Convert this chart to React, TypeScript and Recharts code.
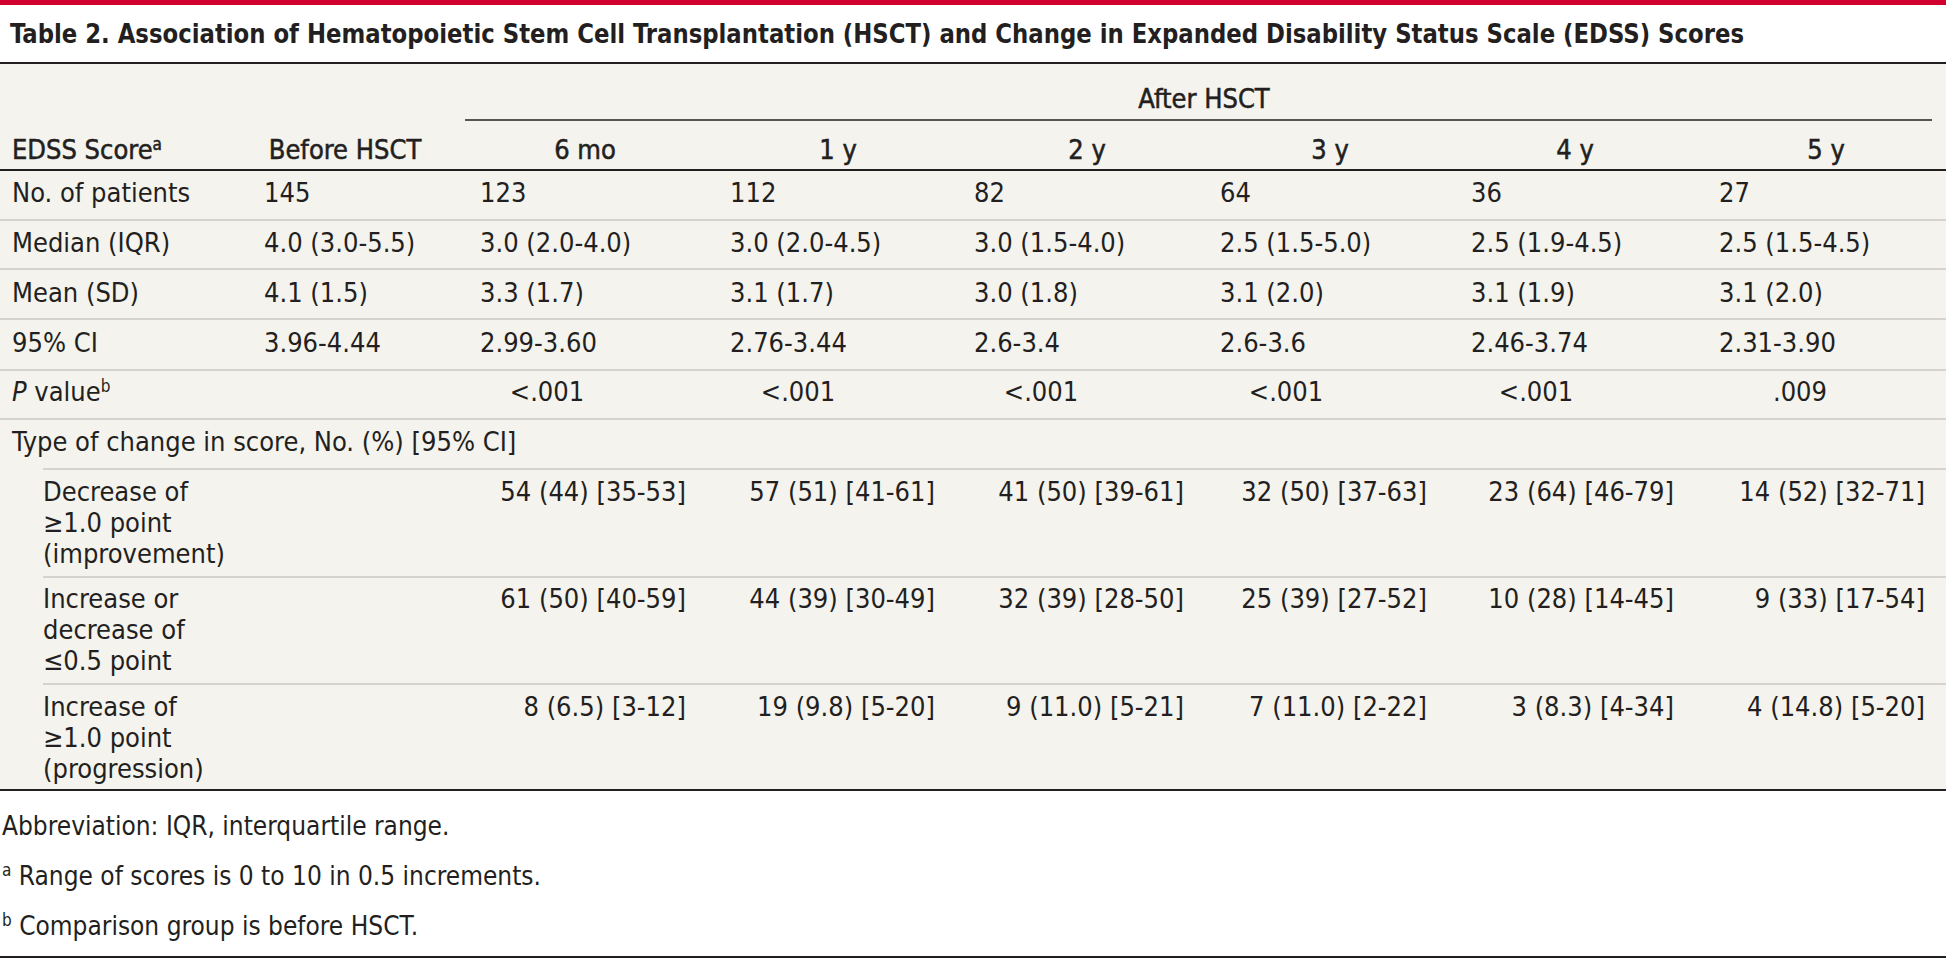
import React from 'react';
import { Surface, Layer } from 'recharts';

// Table values
const periods = ['Before HSCT', '6 mo', '1 y', '2 y', '3 y', '4 y', '5 y'];
const patients = ['145', '123', '112', '82', '64', '36', '27'];
const medianIqr = ['4.0 (3.0-5.5)', '3.0 (2.0-4.0)', '3.0 (2.0-4.5)', '3.0 (1.5-4.0)', '2.5 (1.5-5.0)', '2.5 (1.9-4.5)', '2.5 (1.5-4.5)'];
const meanSd = ['4.1 (1.5)', '3.3 (1.7)', '3.1 (1.7)', '3.0 (1.8)', '3.1 (2.0)', '3.1 (1.9)', '3.1 (2.0)'];
const ci95 = ['3.96-4.44', '2.99-3.60', '2.76-3.44', '2.6-3.4', '2.6-3.6', '2.46-3.74', '2.31-3.90'];
const pValues = ['', '<.001', '<.001', '<.001', '<.001', '<.001', '.009'];
const improvement = ['54 (44) [35-53]', '57 (51) [41-61]', '41 (50) [39-61]', '32 (50) [37-63]', '23 (64) [46-79]', '14 (52) [32-71]'];
const stable = ['61 (50) [40-59]', '44 (39) [30-49]', '32 (39) [28-50]', '25 (39) [27-52]', '10 (28) [14-45]', '9 (33) [17-54]'];
const progression = ['8 (6.5) [3-12]', '19 (9.8) [5-20]', '9 (11.0) [5-21]', '7 (11.0) [2-22]', '3 (8.3) [4-34]', '4 (14.8) [5-20]'];
const changeLabels = [
  ['Decrease of', '\u22651.0 point', '(improvement)'],
  ['Increase or', 'decrease of', '\u22640.5 point'],
  ['Increase of', '\u22651.0 point', '(progression)'],
];

const W = 1946;
const H = 961;
const FONT = '"Liberation Sans Narrow", "DejaVu Sans Condensed", "Arial Narrow", sans-serif';
const INK = '#231f20';
const RULE = '#cbc8bf';
const BG = '#f4f3ee';
const FS = 27;

// column anchors (px)
const headCenter = [345, 585, 838, 1087, 1330, 1575, 1826];
const statLeft = [264, 480, 730, 974, 1220, 1471, 1719];
const pCenter = [0, 547, 798, 1041, 1286, 1536, 1800];
const changeRight = [686, 935, 1184, 1427, 1674, 1925];

const statRows = [
  { label: 'No. of patients', values: patients, base: 202, line: 220 },
  { label: 'Median (IQR)', values: medianIqr, base: 252, line: 269 },
  { label: 'Mean (SD)', values: meanSd, base: 302, line: 319 },
  { label: '95% CI', values: ci95, base: 352, line: 370 },
];
const changeRows = [
  { values: improvement, base: 501, line: 577 },
  { values: stable, base: 608, line: 684 },
  { values: progression, base: 716, line: 0 },
];
const LINE_GAP = 31;

const T: React.FC<React.SVGProps<SVGTextElement>> = (props) => (
  <text fontFamily={FONT} fontSize={FS} fill={INK} {...props} />
);

const App: React.FC = () => {
  return (
    <div style={{ position: 'absolute', left: 0, top: 0, width: W, height: H, background: '#fff' }}>
      <Surface width={W} height={H} viewBox={{ x: 0, y: 0, width: W, height: H }}>
        <rect x={0} y={0} width={W} height={H} fill="#fff" />
        <rect x={0} y={0} width={W} height={5} fill="#d2002c" />
        <T x={10} y={43} fontSize={26} fontWeight="bold" textLength={1734} lengthAdjust="spacingAndGlyphs">
          Table 2. Association of Hematopoietic Stem Cell Transplantation (HSCT) and Change in Expanded Disability Status Scale (EDSS) Scores
        </T>
        <rect x={0} y={63} width={W} height={727} fill={BG} />
        <line x1={0} x2={W} y1={63} y2={63} stroke={INK} strokeWidth={2} />

        {/* header */}
        <Layer>
          <T x={1204} y={108} textAnchor="middle" stroke={INK} strokeWidth={0.5}>After HSCT</T>
          <line x1={465} x2={1932} y1={120} y2={120} stroke={INK} strokeWidth={1.5} />
          <T x={12} y={159} stroke={INK} strokeWidth={0.5}>
            EDSS Score<tspan dy={-9} fontSize={17}>a</tspan>
          </T>
          {periods.map((p, i) => (
            <T key={p} x={headCenter[i]} y={159} textAnchor="middle" stroke={INK} strokeWidth={0.5}>{p}</T>
          ))}
          <line x1={0} x2={W} y1={170} y2={170} stroke={INK} strokeWidth={2} />
        </Layer>

        {/* summary rows */}
        {statRows.map((r) => (
          <Layer key={r.label}>
            <T x={12} y={r.base}>{r.label}</T>
            {r.values.map((v, i) => (
              <T key={i} x={statLeft[i]} y={r.base}>{v}</T>
            ))}
            <line x1={0} x2={W} y1={r.line} y2={r.line} stroke={RULE} strokeWidth={1.5} />
          </Layer>
        ))}

        <Layer>
          <T x={12} y={401}>
            <tspan fontStyle="italic">P</tspan> value<tspan dy={-9} fontSize={17}>b</tspan>
          </T>
          {pValues.map((v, i) => (v ? (
            <T key={i} x={pCenter[i]} y={401} textAnchor="middle">{v}</T>
          ) : null))}
          <line x1={0} x2={W} y1={419} y2={419} stroke={RULE} strokeWidth={1.5} />
        </Layer>

        <T x={12} y={451}>Type of change in score, No. (%) [95% CI]</T>
        <line x1={43} x2={W} y1={469} y2={469} stroke={RULE} strokeWidth={1.5} />

        {changeRows.map((r, k) => (
          <Layer key={k}>
            {changeLabels[k].map((l, j) => (
              <T key={j} x={43} y={r.base + j * LINE_GAP}>{l}</T>
            ))}
            {r.values.map((v, i) => (
              <T key={i} x={changeRight[i]} y={r.base} textAnchor="end">{v}</T>
            ))}
            {r.line ? <line x1={43} x2={W} y1={r.line} y2={r.line} stroke={RULE} strokeWidth={1.5} /> : null}
          </Layer>
        ))}
        <line x1={0} x2={W} y1={790} y2={790} stroke={INK} strokeWidth={2} />

        {/* footnotes */}
        <T x={2} y={835} fontSize={26}>Abbreviation: IQR, interquartile range.</T>
        <T x={2} y={885} fontSize={26}>
          <tspan fontSize={17} dy={-9}>a</tspan><tspan dy={9}> Range of scores is 0 to 10 in 0.5 increments.</tspan>
        </T>
        <T x={2} y={935} fontSize={26}>
          <tspan fontSize={17} dy={-9}>b</tspan><tspan dy={9}> Comparison group is before HSCT.</tspan>
        </T>
        <line x1={0} x2={W} y1={957} y2={957} stroke={INK} strokeWidth={2} />
      </Surface>
    </div>
  );
};

export default App;
